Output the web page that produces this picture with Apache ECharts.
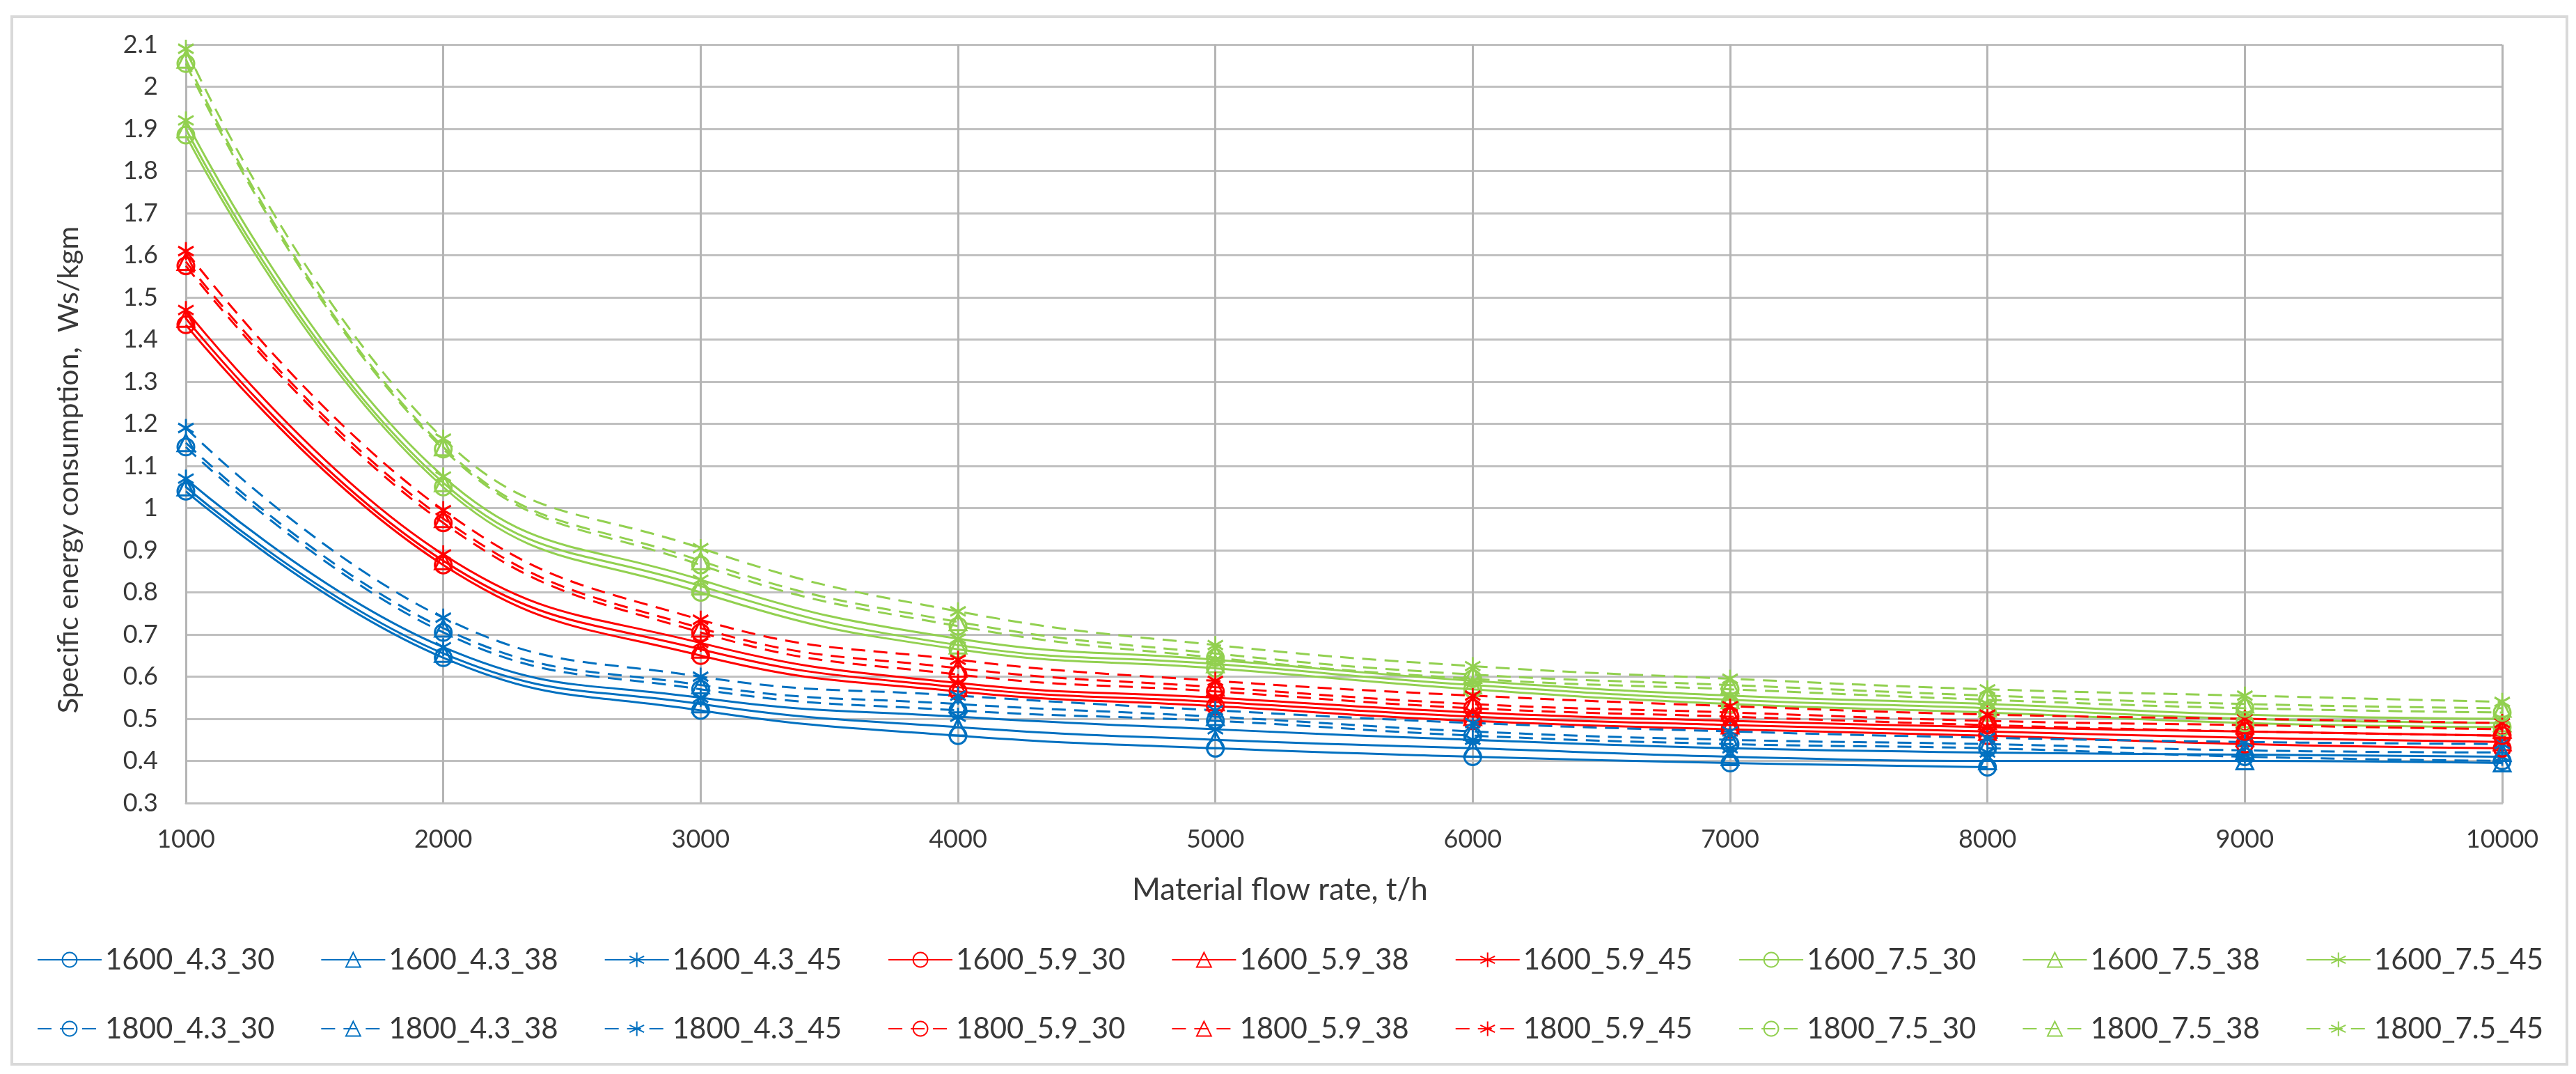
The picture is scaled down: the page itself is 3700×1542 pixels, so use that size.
<!DOCTYPE html>
<html>
<head>
<meta charset="utf-8">
<script src="https://cdn.jsdelivr.net/npm/echarts@6/dist/echarts.min.js"></script>
<style>
html,body{margin:0;padding:0;background:#fff;}
#c{width:3700px;height:1542px;}
</style>
</head>
<body>
<div id="c"></div>
<script>
const flowRates = [1000, 2000, 3000, 4000, 5000, 6000, 7000, 8000, 9000, 10000];
const yTicks = {min: 0.3, max: 2.1, step: 0.1};

const s1600_43_30 = [1.04, 0.645, 0.52, 0.46, 0.43, 0.41, 0.395, 0.385];
const s1600_43_38 = [1.05, 0.655, 0.535, 0.48, 0.45, 0.43, 0.41, 0.40, 0.40, 0.395];
const s1600_43_45 = [1.07, 0.67, 0.55, 0.505, 0.475, 0.45, 0.43, 0.42, 0.415, 0.41];
const s1600_59_30 = [1.435, 0.865, 0.65, 0.565, 0.53, 0.495, 0.475, 0.46, 0.44, 0.43];
const s1600_59_38 = [1.45, 0.875, 0.665, 0.575, 0.54, 0.505, 0.485, 0.47, 0.455, 0.445];
const s1600_59_45 = [1.47, 0.89, 0.68, 0.585, 0.55, 0.515, 0.495, 0.48, 0.47, 0.46];
const s1600_75_30 = [1.885, 1.05, 0.80, 0.665, 0.62, 0.57, 0.535, 0.515, 0.49, 0.48];
const s1600_75_38 = [1.90, 1.06, 0.815, 0.675, 0.63, 0.58, 0.545, 0.525, 0.50, 0.49];
const s1600_75_45 = [1.92, 1.075, 0.83, 0.69, 0.64, 0.59, 0.555, 0.535, 0.51, 0.50];
const s1800_43_30 = [1.145, 0.705, 0.57, 0.52, 0.495, 0.46, 0.44, 0.43, 0.41, 0.40];
const s1800_43_38 = [1.155, 0.715, 0.58, 0.535, 0.505, 0.47, 0.45, 0.44, 0.425, 0.42];
const s1800_43_45 = [1.19, 0.74, 0.60, 0.555, 0.52, 0.49, 0.47, 0.455, 0.445, 0.44];
const s1800_59_30 = [1.575, 0.965, 0.705, 0.605, 0.565, 0.525, 0.505, 0.485, 0.47, 0.46];
const s1800_59_38 = [1.585, 0.975, 0.715, 0.62, 0.575, 0.535, 0.515, 0.495, 0.485, 0.475];
const s1800_59_45 = [1.61, 0.995, 0.735, 0.64, 0.59, 0.555, 0.53, 0.51, 0.50, 0.49];
const s1800_75_30 = [2.055, 1.14, 0.865, 0.72, 0.645, 0.595, 0.57, 0.545, 0.525, 0.515];
const s1800_75_38 = [2.065, 1.145, 0.875, 0.73, 0.655, 0.605, 0.58, 0.555, 0.535, 0.525];
const s1800_75_45 = [2.09, 1.165, 0.905, 0.755, 0.675, 0.625, 0.595, 0.57, 0.555, 0.54];

const row1Names = ['1600_4.3_30','1600_4.3_38','1600_4.3_45','1600_5.9_30','1600_5.9_38','1600_5.9_45','1600_7.5_30','1600_7.5_38','1600_7.5_45'];
const row2Names = ['1800_4.3_30','1800_4.3_38','1800_4.3_45','1800_5.9_30','1800_5.9_38','1800_5.9_45','1800_7.5_30','1800_7.5_38','1800_7.5_45'];
const row1Values = [s1600_43_30, s1600_43_38, s1600_43_45, s1600_59_30, s1600_59_38, s1600_59_45, s1600_75_30, s1600_75_38, s1600_75_45];
const row2Values = [s1800_43_30, s1800_43_38, s1800_43_45, s1800_59_30, s1800_59_38, s1800_59_45, s1800_75_30, s1800_75_38, s1800_75_45];

const groupColors = ['#0070C0', '#FF0000', '#92D050'];
const starPath = 'path://M10 0 L10 20 M1.34 5 L18.66 15 M1.34 15 L18.66 5';
const markerShapes = ['circle', 'triangle', starPath];
const FONT = 'Lato';
const TEXT = '#383838';

function makeSeries(name, vals, idx, dashed) {
  const color = groupColors[Math.floor(idx / 3)];
  const shape = markerShapes[idx % 3];
  return {
    name: name,
    type: 'line',
    smooth: 0.45,
    data: vals.map((v, i) => [flowRates[i], v]),
    symbol: shape,
    symbolSize: shape === starPath ? [22, 26] : 24,
    showAllSymbol: true,
    lineStyle: {color: color, width: 3, type: dashed ? [20, 12] : 'solid'},
    itemStyle: {color: 'rgba(255,255,255,0)', borderColor: color, borderWidth: 3},
    emphasis: {disabled: true},
    animation: false
  };
}

const series = [];
row1Names.forEach((n, i) => series.push(makeSeries(n, row1Values[i], i, false)));
row2Names.forEach((n, i) => series.push(makeSeries(n, row2Values[i], i, true)));

const legendCommon = {
  orient: 'horizontal',
  left: 48,
  width: 3645,
  itemWidth: 92,
  itemHeight: 26,
  itemGap: 66,
  textStyle: {fontFamily: FONT, fontSize: 42, color: TEXT},
  inactiveColor: '#ccc'
};

const option = {
  backgroundColor: '#fff',
  animation: false,
  grid: {left: 267, right: 106, top: 64, bottom: 389, containLabel: false},
  xAxis: {
    type: 'value',
    min: 1000, max: 10000, interval: 1000,
    name: 'Material flow rate, t/h',
    nameLocation: 'middle',
    nameGap: 103,
    nameTextStyle: {fontFamily: FONT, fontSize: 44, color: TEXT, padding: [0, 184, 0, 0]},
    axisLine: {show: true, lineStyle: {color: '#BFBFBF', width: 3}},
    axisTick: {show: false},
    axisLabel: {fontFamily: FONT, fontSize: 36, color: TEXT, margin: 34, formatter: v => String(v)},
    splitLine: {show: true, lineStyle: {color: '#B4B4B4', width: 3}}
  },
  yAxis: {
    type: 'value',
    min: yTicks.min, max: yTicks.max, interval: yTicks.step,
    name: 'Specific energy consumption,  Ws/kgm',
    nameLocation: 'middle',
    nameGap: 148,
    nameTextStyle: {fontFamily: FONT, fontSize: 41, color: TEXT, padding: [0, 132, 0, 0]},
    axisLine: {show: true, lineStyle: {color: '#B4B4B4', width: 3}},
    axisTick: {show: false},
    axisLabel: {fontFamily: FONT, fontSize: 36, color: TEXT, margin: 40},
    splitLine: {show: true, lineStyle: {color: '#C0C0C0', width: 3}}
  },
  legend: [
    Object.assign({}, legendCommon, {data: row1Names, top: 1352}),
    Object.assign({}, legendCommon, {data: row2Names, top: 1451})
  ],
  graphic: [{
    type: 'rect',
    shape: {x: 17, y: 24, width: 3670, height: 1504},
    style: {fill: 'none', stroke: '#D9D9D9', lineWidth: 4},
    silent: true, z: -1
  }],
  series: series
};

const chart = echarts.init(document.getElementById('c'), null, {renderer: 'canvas'});
chart.setOption(option);
</script>
</body>
</html>
